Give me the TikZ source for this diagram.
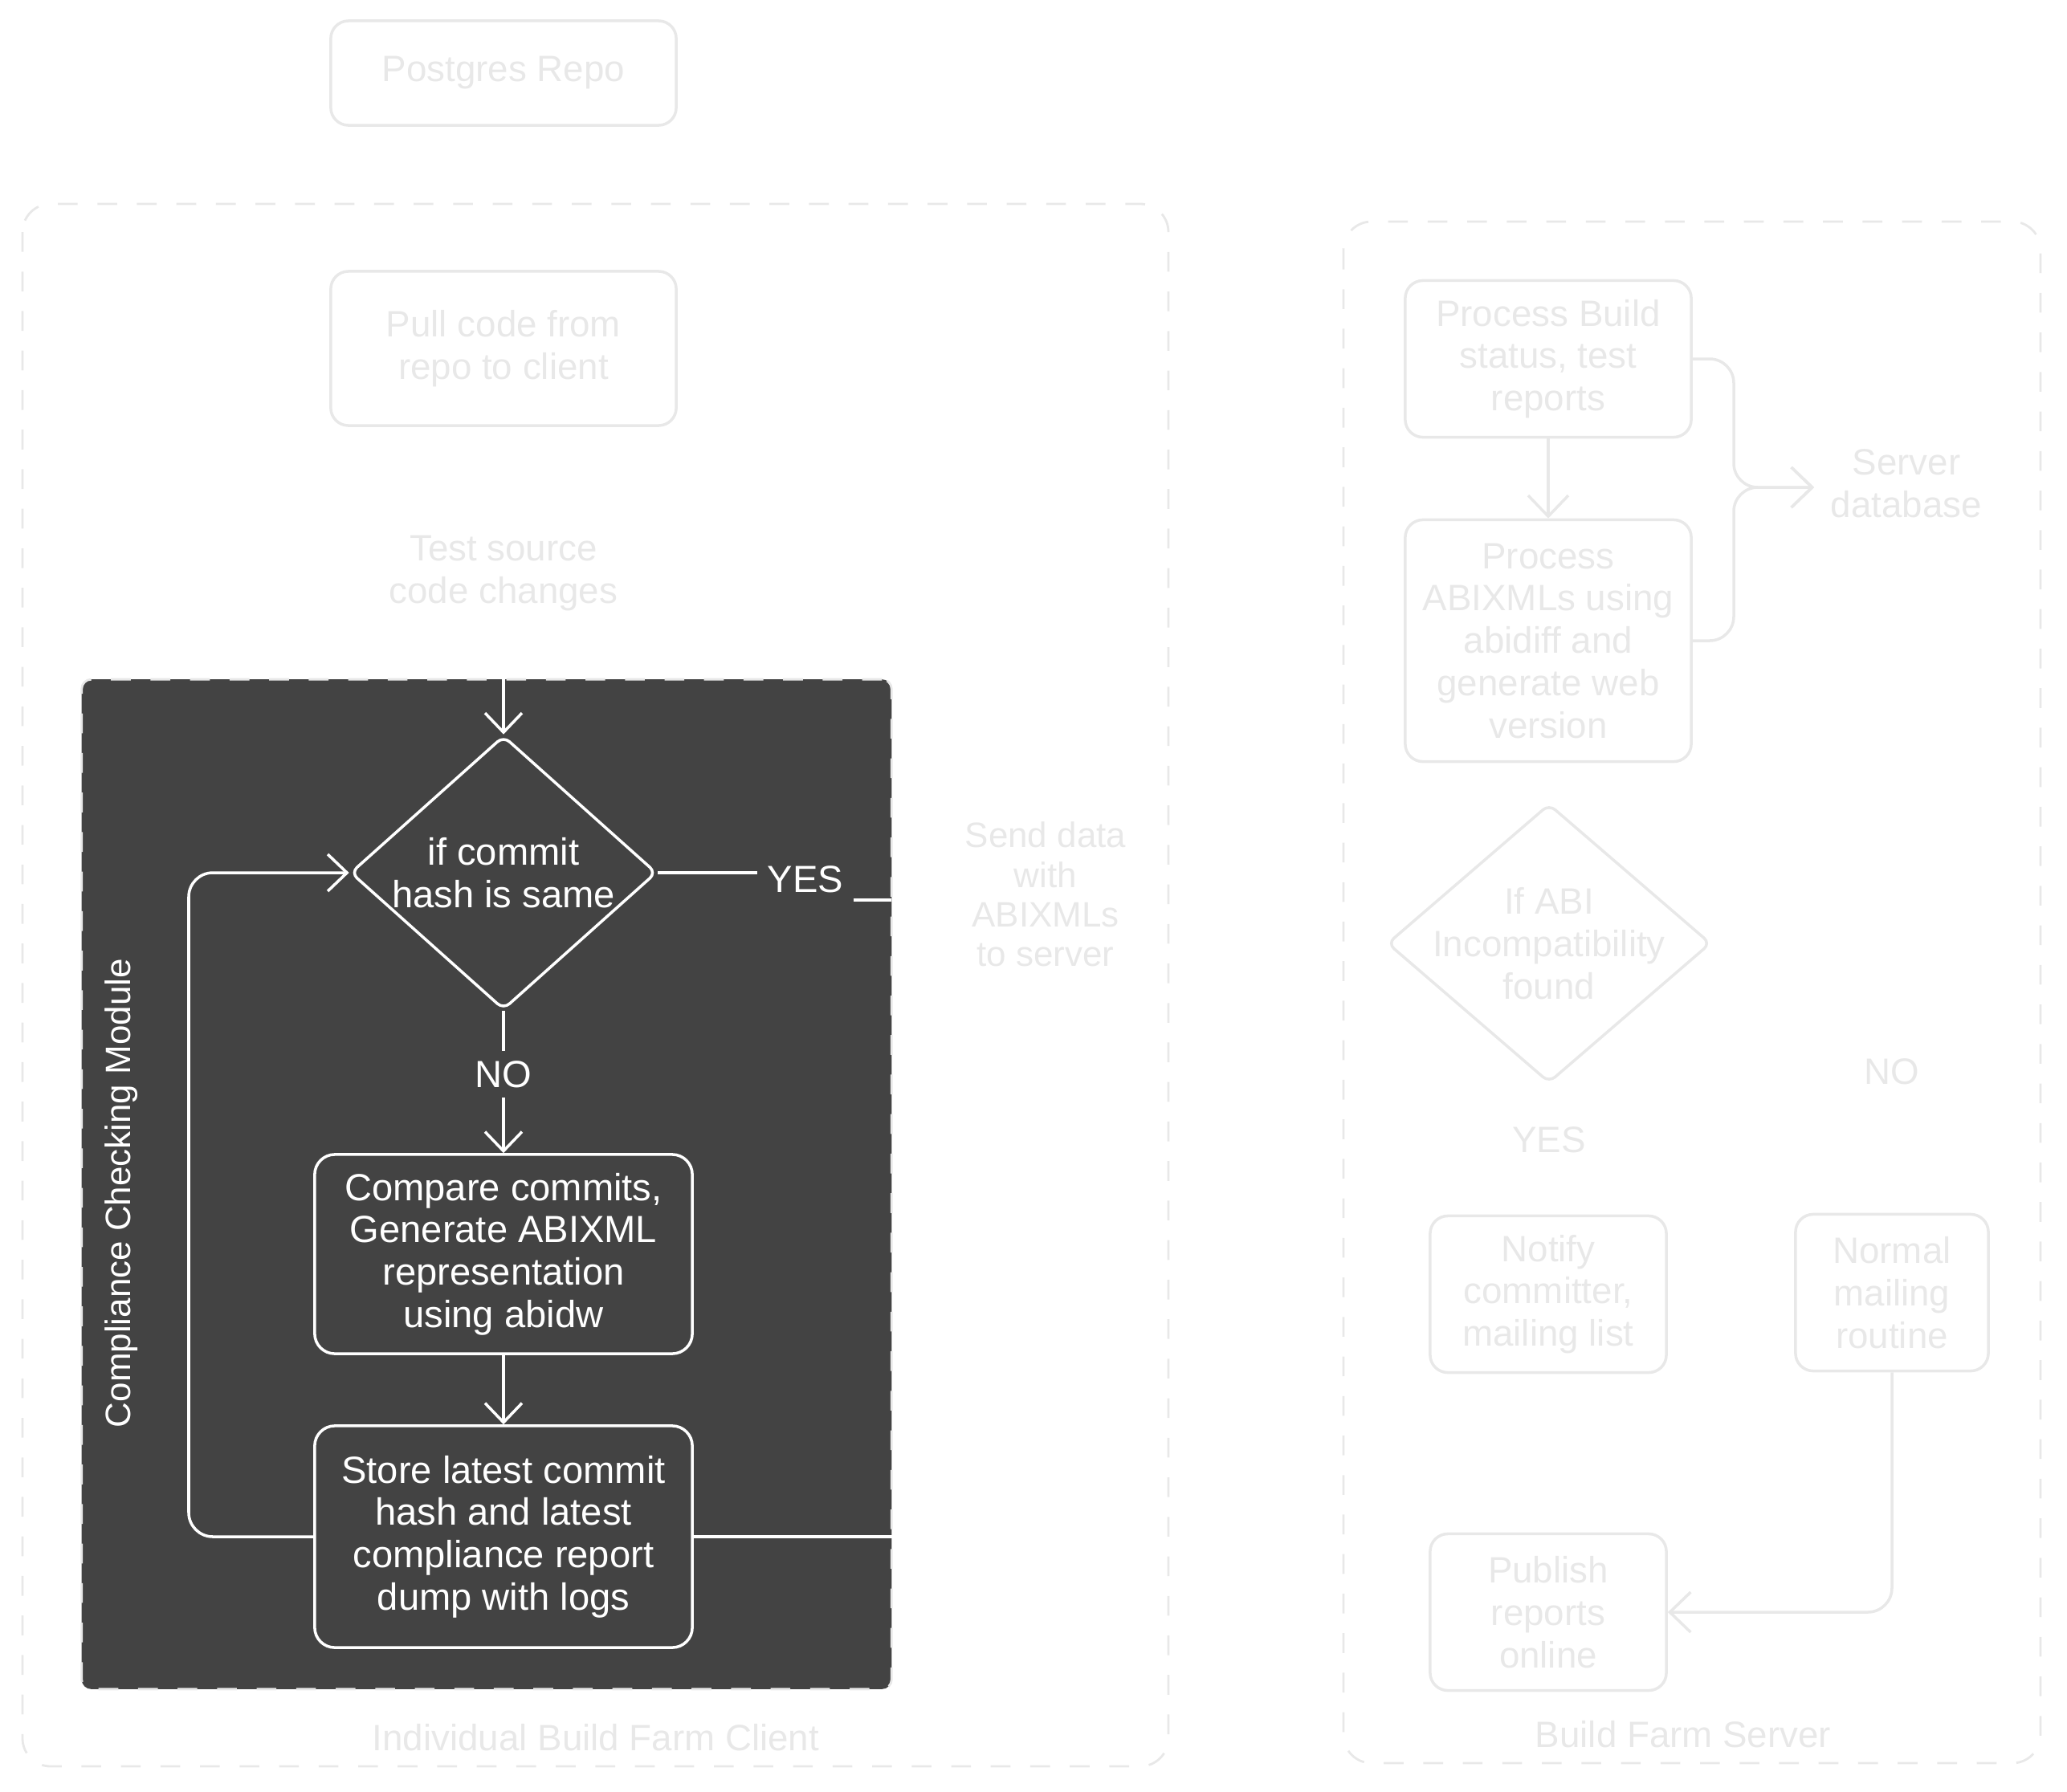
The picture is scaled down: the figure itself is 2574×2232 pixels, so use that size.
\documentclass[tikz,border=0pt]{standalone}
\usepackage{fontspec}
\setmainfont{Liberation Sans}
\usetikzlibrary{shapes.geometric,arrows.meta}
\definecolor{ghost}{RGB}{232,232,232}
\definecolor{modfill}{RGB}{67,67,67}

\begin{document}
\begin{tikzpicture}[x=0.01cm,y=-0.01cm,
  every node/.style={font=\fontsize{13}{15}\selectfont, align=center},
  gbox/.style={draw=ghost, text=ghost, line width=1pt, rounded corners=0.22cm, inner sep=0pt},
  gtext/.style={text=ghost},
  gframe/.style={draw=ghost, line width=0.8pt, dash pattern=on 7pt off 7pt, rounded corners=0.35cm},
  wbox/.style={draw=white, text=white, line width=1pt, rounded corners=0.25cm, inner sep=0pt,
    font=\fontsize{13.4}{15}\selectfont},
  wtext/.style={text=white},
  wline/.style={draw=white, line width=1pt},
  wflow/.style={wline, -{Straight Barb[length=2.4mm,width=4.6mm]}},
  gline/.style={draw=ghost, line width=1pt},
  gflow/.style={gline, -{Straight Barb[length=2.6mm,width=5mm]}}]

\useasboundingbox (0,0) rectangle (2574,2232);

\draw[gframe] (28,254) rectangle (1455,2200);
\draw[gframe] (1673,276) rectangle (2541,2196);

\node[gbox, minimum width=4.3cm, minimum height=1.3cm] (repo) at (627,91) {Postgres Repo};
\node[gbox, minimum width=4.3cm, minimum height=1.92cm] (pull) at (627,434) {Pull code from\\repo to client};
\node[gtext] (test) at (627,714) {Test source\\code changes};
\node[gtext, font=\fontsize{12.5}{14}\selectfont] (send) at (1302,1114) {Send data\\with\\ABIXMLs\\to server};
\node[gtext] (clientlbl) at (742,2164) {Individual Build Farm Client};

\node[fill=modfill, draw=ghost, line width=0.8pt, dash pattern=on 7pt off 7pt, rounded corners=0.12cm,
  minimum width=10.08cm, minimum height=12.57cm, inner sep=0pt] (module) at (606,1475) {};
\node[wtext, rotate=90, font=\fontsize{12.5}{15}\selectfont] (modlbl) at (151,1486) {Compliance Checking Module};

\node[diamond, draw=white, text=white, line width=1pt, rounded corners=0.1cm, inner sep=0pt, aspect=1.12,
  minimum width=3.81cm, minimum height=3.41cm, font=\fontsize{13.4}{15}\selectfont] (cond) at (627,1087) {if commit\\hash is same};
\node[wtext, font=\fontsize{13.4}{15}\selectfont] (yes) at (1003,1095) {YES};
\node[wtext, font=\fontsize{13.4}{15}\selectfont] (no) at (627,1338) {NO};
\node[wbox, minimum width=4.7cm, minimum height=2.48cm] (cmp) at (627,1562) {Compare commits,\\Generate ABIXML\\representation\\using abidw};
\node[wbox, minimum width=4.7cm, minimum height=2.76cm] (store) at (627,1914) {Store latest commit\\hash and latest\\compliance report\\dump with logs};
\coordinate (loop) at (235,1087);
\coordinate (yesend) at (1110,1121);

\draw[wflow] (cond.north |- module.north) -- (cond.north);
\draw[wline] (cond.east) -- (cond.east -| yes.west);
\draw[wline] (yesend -| yes.east) -- (yesend);
\draw[wline] (cond.south) -- (no.north);
\draw[wflow] (no.south) -- (cmp.north);
\draw[wflow] (cmp.south) -- (store.north);
\draw[wflow, rounded corners=0.3cm] (store.west) -| (loop) -- (cond.west);
\draw[wline] (store.east) -- (store.east -| module.east);

\node[gbox, minimum width=3.56cm, minimum height=1.95cm] (build) at (1928,447) {Process Build\\status, test\\reports};
\node[gbox, minimum width=3.56cm, minimum height=3.01cm] (abixml) at (1928,798) {Process\\ABIXMLs using\\abidiff and\\generate web\\version};
\node[gtext, inner sep=0.2cm] (db) at (2374,602) {Server\\database};
\coordinate (junc) at (2159,607);
\node[diamond, draw=ghost, text=ghost, line width=1pt, rounded corners=0.1cm, inner ysep=0pt, inner xsep=-0.24cm,
  aspect=1.16, minimum width=4cm, minimum height=3.45cm] (incompat) at (1929,1175) {If ABI\\Incompatibility\\found};
\node[gtext] (sno) at (2356,1335) {NO};
\node[gtext] (syes) at (1929,1420) {YES};
\node[gbox, minimum width=2.94cm, minimum height=1.95cm] (notify) at (1928,1612) {Notify\\committer,\\mailing list};
\node[gbox, minimum width=2.4cm, minimum height=1.95cm] (mailing) at (2356,1610) {Normal\\mailing\\routine};
\node[gbox, minimum width=2.94cm, minimum height=1.95cm] (publish) at (1928,2008) {Publish\\reports\\online};
\node[gtext] (serverlbl) at (2096,2160) {Build Farm Server};

\draw[gflow] (build.south) -- (abixml.north);
\draw[gflow, rounded corners=0.3cm] (build.east) -| (junc) -- (db.west |- junc);
\draw[gflow, rounded corners=0.3cm] (abixml.east) -| (junc) -- (db.west |- junc);
\draw[gflow, rounded corners=0.3cm] (mailing.south) |- (publish.east);

\end{tikzpicture}
\end{document}
